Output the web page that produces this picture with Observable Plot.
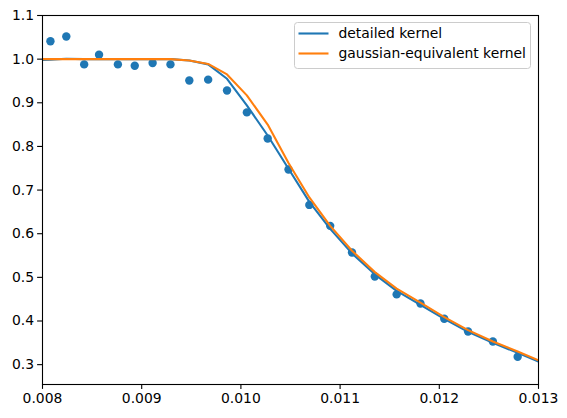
<!DOCTYPE html>
<html>
<head>
<meta charset="utf-8">
<script src="https://cdn.jsdelivr.net/npm/d3@7"></script>
<script src="https://cdn.jsdelivr.net/npm/@observablehq/plot@0.6"></script>
<style>
  html, body { margin: 0; padding: 0; background: #fff; }
  #chart { position: relative; width: 567px; height: 418px; }
  #chart svg { font-family: "DejaVu Sans", sans-serif; }
</style>
</head>
<body>
<div id="chart"></div>
<script>
// Measured data points
const pointX = [0.00808, 0.00824, 0.00842, 0.00857, 0.00876, 0.00893, 0.00911, 0.00929,
  0.00948, 0.00967, 0.00986, 0.01006, 0.01027, 0.01048, 0.01069, 0.01090, 0.01112,
  0.01135, 0.01157, 0.01181, 0.01205, 0.01229, 0.01254, 0.01279];
const pointY = [1.041, 1.052, 0.988, 1.010, 0.988, 0.985, 0.991, 0.988,
  0.951, 0.953, 0.928, 0.878, 0.818, 0.747, 0.666, 0.618, 0.557,
  0.502, 0.461, 0.440, 0.405, 0.376, 0.353, 0.318];

// Model curves
const lineX = [0.00800, 0.00808, 0.00824, 0.00842, 0.00857, 0.00876, 0.00893, 0.00911, 0.00929,
  0.00948, 0.00967, 0.00986, 0.01006, 0.01027, 0.01048, 0.01069, 0.01090, 0.01112,
  0.01135, 0.01157, 0.01181, 0.01205, 0.01229, 0.01254, 0.01279, 0.01300];
const detailedY = [0.998, 0.999, 1.001, 1.000, 1.000, 1.000, 1.000, 1.000, 1.000,
  0.997, 0.988, 0.955, 0.894, 0.825, 0.749, 0.673, 0.611, 0.555,
  0.507, 0.469, 0.437, 0.405, 0.375, 0.350, 0.327, 0.307];
const gaussianY = [1.000, 1.000, 1.000, 1.000, 1.000, 1.000, 1.000, 1.000, 1.000,
  0.997, 0.989, 0.965, 0.917, 0.850, 0.762, 0.683, 0.618, 0.561,
  0.512, 0.474, 0.442, 0.409, 0.379, 0.353, 0.330, 0.310];

const seriesNames = ["detailed kernel", "gaussian-equivalent kernel"];
const seriesColors = ["#1f77b4", "#ff7f0e"];
const xTicks = [0.008, 0.009, 0.010, 0.011, 0.012, 0.013];
const yTicks = [0.3, 0.4, 0.5, 0.6, 0.7, 0.8, 0.9, 1.0, 1.1];

const points = pointX.map((x, i) => ({x, y: pointY[i]}));
const detailed = lineX.map((x, i) => ({x, y: detailedY[i]}));
const gaussian = lineX.map((x, i) => ({x, y: gaussianY[i]}));

const W = 567, H = 418;
const mL = 42, mR = 29, mT = 15, mB = 34;
const FS = "13.9px";

const plot = Plot.plot({
  width: W,
  height: H,
  marginLeft: mL,
  marginRight: mR,
  marginTop: mT,
  marginBottom: mB,
  style: {fontSize: FS, fontFamily: "DejaVu Sans, sans-serif", color: "#000", background: "#fff", overflow: "visible"},
  x: {domain: [0.008, 0.013]},
  y: {domain: [0.2545, 1.1]},
  marks: [
    Plot.dot(points, {x: "x", y: "y", r: 4.2, fill: seriesColors[0], stroke: "none", clip: true}),
    Plot.line(detailed, {x: "x", y: "y", stroke: seriesColors[0], strokeWidth: 2.1, clip: true}),
    Plot.line(gaussian, {x: "x", y: "y", stroke: seriesColors[1], strokeWidth: 2.1, clip: true}),
    Plot.frame({stroke: "#000", strokeWidth: 1.1}),
    Plot.axisX({ticks: xTicks, tickFormat: d3.format(".3f"), tickSize: 4.9, tickPadding: 3.5, label: null, stroke: "#000", strokeWidth: 1.1}),
    Plot.axisY({ticks: yTicks, tickFormat: d3.format(".1f"), tickSize: 4.9, tickPadding: 3.5, label: null, stroke: "#000", strokeWidth: 1.1})
  ]
});
document.getElementById("chart").appendChild(plot);

// Legend (matplotlib style) overlaid in the SVG
const svg = d3.select(plot);
const lg = svg.append("g").attr("font-family", "DejaVu Sans, sans-serif").attr("font-size", FS)
  .attr("text-anchor", "start");
lg.append("rect").attr("x", 294.5).attr("y", 22.5).attr("width", 236).attr("height", 46)
  .attr("rx", 3).attr("fill", "#fff").attr("fill-opacity", 0.8).attr("stroke", "#cccccc").attr("stroke-width", 1);
seriesNames.forEach((name, i) => {
  const yy = 33.5 + i * 20;
  lg.append("line").attr("x1", 298.5).attr("x2", 328.5).attr("y1", yy).attr("y2", yy)
    .attr("stroke", seriesColors[i]).attr("stroke-width", 2.1);
  lg.append("text").attr("x", 338.5).attr("y", yy).attr("dy", "0.35em").attr("text-anchor", "start")
    .attr("fill", "#000").text(name);
});
</script>
</body>
</html>
